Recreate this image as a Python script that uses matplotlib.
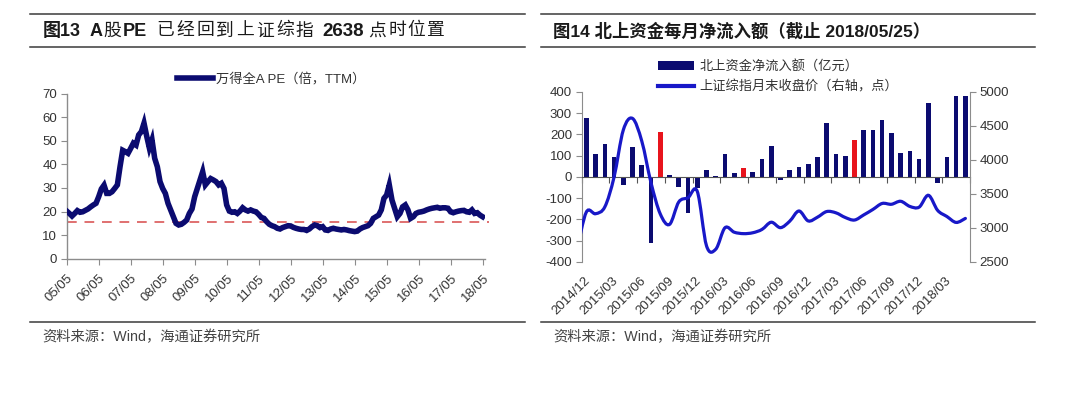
import numpy as np
import matplotlib
matplotlib.use("Agg")
import matplotlib.pyplot as plt
from matplotlib.lines import Line2D
from matplotlib.patches import Patch, PathPatch
from matplotlib.path import Path
import matplotlib.transforms as mtransforms

plt.rcParams['font.family'] = ['Liberation Sans', 'Noto Sans CJK SC']
plt.rcParams['axes.unicode_minus'] = False

# ---------------- data: left chart (monthly, 2005/05 .. 2018/05) ----------------
pe_tick_labels = ["05/05", "06/05", "07/05", "08/05", "09/05", "10/05", "11/05",
                  "12/05", "13/05", "14/05", "15/05", "16/05", "17/05", "18/05"]
pe_values = [
    20.2, 19.2, 18.1, 19.2, 20.4, 19.7, 19.9, 20.5,                          # 2005/05-12
    21.1, 22.0, 22.8, 23.5, 26.3, 29.6, 31.2, 27.7, 27.7, 28.4, 29.8, 31.3,  # 2006
    39.0, 46.0, 45.4, 44.7, 46.8, 49.0, 48.2, 52.5, 53.9, 57.5, 52.0, 47.0,  # 2007
    50.4, 42.6, 39.0, 32.7, 29.8, 27.7, 23.5, 20.7, 17.8, 15.0, 14.3, 14.6,  # 2008
    15.4, 16.4, 19.2, 21.1, 26.3, 29.8, 33.4, 36.9, 31.3, 32.7, 34.0, 33.4,  # 2009
    32.7, 31.3, 32.0, 29.8, 22.8, 20.2, 19.7, 19.9, 19.2, 20.2, 21.6, 20.7,  # 2010
    20.2, 20.7, 20.2, 19.9, 18.8, 17.5, 17.1, 15.7, 14.6, 14.0, 13.6, 12.9,  # 2011
    12.6, 13.2, 13.6, 14.0, 13.9, 13.3, 12.9, 12.6, 12.4, 12.4, 12.0, 12.6,  # 2012
    13.6, 14.3, 14.0, 13.2, 13.6, 12.2, 12.0, 12.6, 12.9, 12.6, 12.4, 12.2,  # 2013
    12.4, 12.2, 11.9, 11.7, 11.5, 11.7, 12.6, 13.2, 13.6, 14.0, 15.0, 17.1,  # 2014
    17.8, 18.5, 20.7, 25.6, 27.0, 31.3, 24.9, 21.4, 17.8, 19.2, 22.0, 22.8,  # 2015
    20.7, 17.1, 17.8, 19.2, 19.7, 19.9, 20.2, 20.7, 21.1, 21.4, 21.6, 21.8,  # 2016
    21.4, 21.6, 21.6, 21.4, 19.9, 19.5, 19.9, 20.2, 20.4, 20.5, 19.9, 19.7,  # 2017
    20.7, 19.2, 19.5, 18.5, 17.8,                                            # 2018/01-05
]
pe_ref_level = 15.5   # PE when SSE Composite was at 2638

# ---------------- data: right chart (monthly, 2014/12 .. 2018/05) ----------------
flow_months = [
    "2014/12", "2015/01", "2015/02", "2015/03", "2015/04", "2015/05", "2015/06",
    "2015/07", "2015/08", "2015/09", "2015/10", "2015/11", "2015/12", "2016/01",
    "2016/02", "2016/03", "2016/04", "2016/05", "2016/06", "2016/07", "2016/08",
    "2016/09", "2016/10", "2016/11", "2016/12", "2017/01", "2017/02", "2017/03",
    "2017/04", "2017/05", "2017/06", "2017/07", "2017/08", "2017/09", "2017/10",
    "2017/11", "2017/12", "2018/01", "2018/02", "2018/03", "2018/04", "2018/05",
]
net_inflow = [278, 110, 156, 96, -38, 139, 55, -312, 213, 9, -46, -168, -54, 33,
              3, 106, 19, 40, 22, 85, 148, -12, 34, 48, 63, 93, 256, 110,
              97, 176, 220, 223, 270, 207, 115, 124, 83, 350, -26, 95, 383, 383]
red_months = ["2015/08", "2016/05", "2017/05"]
# SSE Composite month-end close, starting one month earlier (2014/11)
sse_close = [2683, 3234, 3210, 3310, 3748, 4441, 4611, 4277, 3664, 3206, 3053, 3383,
             3445, 3539, 2738, 2688, 3004, 2938, 2917, 2930, 2979, 3085, 3005, 3100,
             3250, 3104, 3159, 3242, 3223, 3155, 3117, 3192, 3273, 3361, 3349, 3393,
             3317, 3307, 3481, 3259, 3169, 3082, 3141]
flow_label_months = flow_months[::3]

# ---------------- figure ----------------
W, H = 1080, 398
fig = plt.figure(figsize=(W / 100, H / 100), dpi=100)
fig.patch.set_facecolor("white")


def rect(x0, y0, x1, y1):
    return [x0 / W, 1 - y1 / H, (x1 - x0) / W, (y1 - y0) / H]


def hrule(x0, x1, y):
    fig.add_artist(Line2D([x0 / W, x1 / W], [1 - y / H, 1 - y / H],
                          color="#3a3a3a", lw=1.1, transform=fig.transFigure))


def ftext(xpx, ypx, s, ha="left", **kw):
    fig.text(xpx / W, 1 - ypx / H, s, va="center", ha=ha, **kw)


AX_GRAY = "#8c8c8c"
TXT = "#333333"
NAVY = "#0b0b70"
TITLE_C = "#1a1a1a"

# rules / titles / sources
for (x0, x1) in [(30, 525), (541, 1035)]:
    hrule(x0, x1, 14)
    hrule(x0, x1, 47)
    hrule(x0, x1, 322)

# left title (letter-spaced like the reference)
ty = 31
CJK_FS = 12.8
ftext(43, ty, "图13", fontsize=13, fontweight="bold", color=TITLE_C)
ftext(89.5, ty, "A", fontsize=13, fontweight="bold", color=TITLE_C)
ftext(112, ty, "股", ha="center", fontsize=CJK_FS, color=TITLE_C)
ftext(123, ty, "PE", fontsize=13, fontweight="bold", color=TITLE_C)
for k, ch in enumerate("已经回到上证综指"):
    ftext(165.5 + 19.9 * k, ty, ch, ha="center", fontsize=CJK_FS, color=TITLE_C)
ftext(322, ty, "2638", fontsize=13.5, fontweight="bold", color=TITLE_C)
for k, ch in enumerate("点时位置"):
    ftext(377.5 + 19.6 * k, ty, ch, ha="center", fontsize=CJK_FS, color=TITLE_C)

ftext(553, ty, "图14 北上资金每月净流入额（截止 2018/05/25）",
      fontsize=12.5, fontweight="bold", color=TITLE_C)
ftext(42, 337, "资料来源：Wind，海通证券研究所", fontsize=10.3, color="#444444")
ftext(553, 337, "资料来源：Wind，海通证券研究所", fontsize=10.3, color="#444444")

# ---------------- left chart ----------------
axL = fig.add_axes(rect(66.7, 93.7, 485, 258.7))
xs = np.arange(len(pe_values))
axL.plot(xs, pe_values, color=NAVY, lw=4.0, solid_joinstyle="miter",
         label="万得全A PE（倍，TTM）", zorder=3)
axL.plot([0, len(pe_values) + 1.5], [pe_ref_level, pe_ref_level], color="#e07070",
         lw=1.4, ls=(0, (5, 4)), zorder=2, clip_on=False)
axL.set_xlim(0, len(pe_values) - 0.1)
axL.set_ylim(0, 70)
axL.set_yticks(np.arange(0, 71, 10))
axL.set_xticks(np.arange(0, len(pe_values), 12))
axL.set_xticklabels(pe_tick_labels, rotation=45, ha="right", va="top",
                    rotation_mode="anchor")
for s in ["top", "right"]:
    axL.spines[s].set_visible(False)
for s in ["left", "bottom"]:
    axL.spines[s].set_color(AX_GRAY)
    axL.spines[s].set_linewidth(1.0)
axL.tick_params(axis="both", direction="out", length=4, color=AX_GRAY,
                labelsize=9.5, labelcolor=TXT)
axL.tick_params(axis="x", pad=6)
axL.tick_params(axis="y", pad=3)
axL.legend(loc="center left", bbox_to_anchor=(177 / W, 1 - 79 / H),
           bbox_transform=fig.transFigure, frameon=False, fontsize=9.5,
           handlelength=2.7, handletextpad=0.25, borderpad=0, borderaxespad=0,
           labelcolor=TXT)

# ---------------- right chart ----------------
axR = fig.add_axes(rect(581.7, 92, 970, 262))
idx = np.arange(len(flow_months))
bar_colors = ["#e8141c" if m in red_months else NAVY for m in flow_months]
axR.bar(idx, net_inflow, width=0.5, color=bar_colors, zorder=2)
axR.set_xlim(-0.5, len(flow_months) - 0.5)
axR.set_ylim(-400, 400)
axR.set_yticks(np.arange(-400, 401, 100))
axR.set_xticks(np.arange(-0.5, len(flow_months), 3))
axR.set_xticklabels([])
axR.spines["bottom"].set_position(("data", 0))
axR.spines["bottom"].set_color("#555555")
axR.spines["top"].set_visible(False)
axR.spines["right"].set_visible(False)
axR.spines["left"].set_color(AX_GRAY)
axR.tick_params(axis="x", direction="out", length=4, color="#555555")
axR.tick_params(axis="y", direction="out", length=4, color=AX_GRAY,
                labelsize=9.5, labelcolor=TXT, pad=3)
blend = mtransforms.blended_transform_factory(axR.transData, axR.transAxes)
for i, m in enumerate(flow_months):
    if m in flow_label_months:
        axR.text(i - 0.2, -0.075, m, transform=blend, rotation=45, ha="right",
                 va="top", rotation_mode="anchor", fontsize=9.5, color=TXT)

axR2 = axR.twinx()
axR2.set_ylim(2500, 5000)
axR2.set_yticks(np.arange(2500, 5001, 500))
for s in ["top", "left", "bottom"]:
    axR2.spines[s].set_visible(False)
axR2.spines["right"].set_color(AX_GRAY)
axR2.tick_params(axis="y", direction="out", length=4, color=AX_GRAY,
                 labelsize=9.5, labelcolor=TXT, pad=3)

# smoothed line (Bezier through the month-end closes), first point is 2014/11
lx = np.arange(-1, len(sse_close) - 1, dtype=float)
ly = np.asarray(sse_close, dtype=float)
verts = [(lx[0], ly[0])]
codes = [Path.MOVETO]
n = len(lx)
for i in range(n - 1):
    p0 = np.array([lx[max(i - 1, 0)], ly[max(i - 1, 0)]])
    p1 = np.array([lx[i], ly[i]])
    p2 = np.array([lx[i + 1], ly[i + 1]])
    p3 = np.array([lx[min(i + 2, n - 1)], ly[min(i + 2, n - 1)]])
    c1 = p1 + (p2 - p0) / 6.0
    c2 = p2 - (p3 - p1) / 6.0
    verts += [tuple(c1), tuple(c2), tuple(p2)]
    codes += [Path.CURVE4, Path.CURVE4, Path.CURVE4]
line_color = "#1818c8"
axR2.add_patch(PathPatch(Path(verts, codes), facecolor="none", edgecolor=line_color,
                         lw=2.3, zorder=3, capstyle="round"))

handles = [Patch(facecolor=NAVY, edgecolor="none"),
           Line2D([0], [0], color=line_color, lw=3)]
labels = ["北上资金净流入额（亿元）", "上证综指月末收盘价（右轴，点）"]
axR2.legend(handles, labels, loc="center left", bbox_to_anchor=(658 / W, 1 - 77 / H),
            bbox_transform=fig.transFigure, frameon=False, fontsize=9.5,
            handlelength=2.7, handletextpad=0.45, borderpad=0, borderaxespad=0,
            labelspacing=0.55, labelcolor=TXT)

fig.savefig("out.png", dpi=100, facecolor="white")
